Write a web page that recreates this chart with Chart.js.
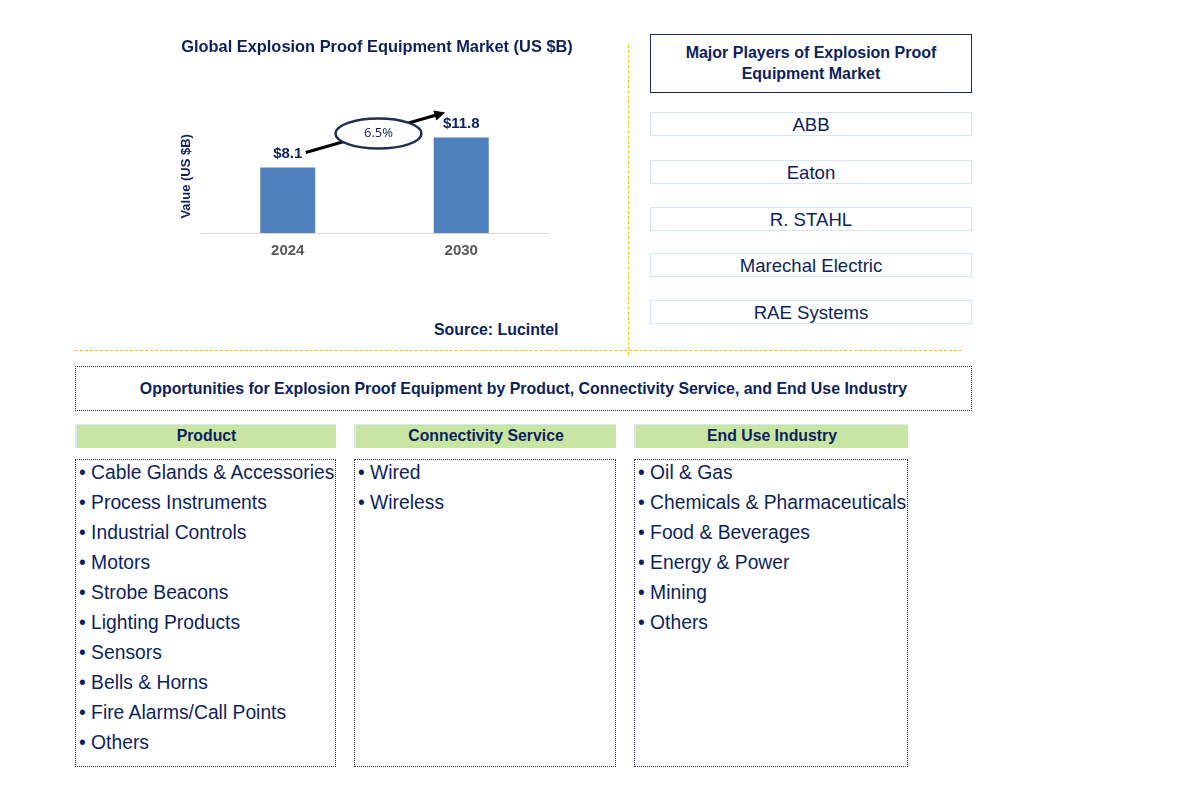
<!DOCTYPE html>
<html>
<head>
<meta charset="utf-8">
<script src="https://cdn.jsdelivr.net/npm/chart.js@4.4.1/dist/chart.umd.min.js"></script>
<style>
    body { margin: 0; width: 1189px; height: 811px; background: #fff; font-family: "Liberation Sans", Arial, sans-serif; color: #0D1F5C; position: relative; overflow: hidden; }
    .abs { position: absolute; box-sizing: border-box; }
    #chartWrap { left: 170px; top: 30px; width: 420px; height: 240px; }
    .source { left: 434px; top: 321px; font-size: 15.9px; font-weight: bold; }
    .vline { left: 628px; top: 45px; height: 310px; border-left: 1px dashed #FFC000; }
    .hline { left: 75px; top: 350px; width: 887px; border-top: 1px dashed #FFC000; }
    .playersHead { left: 650px; top: 34px; width: 322px; height: 59px; border: 1.5px solid #1F2A5C; font-weight: bold; font-size: 16px; line-height: 21px; text-align: center; padding-top: 7px; }
    .player { left: 650px; width: 322px; height: 24px; border: 1.5px solid #D3E8F4; font-size: 18.6px; line-height: 24px; text-align: center; }
    .oppBox { left: 75px; top: 366px; width: 897px; height: 45px; border: 1px dotted #1F2A5C; font-weight: bold; font-size: 15.9px; line-height: 43px; text-align: center; }
    .colHead { top: 424px; height: 24px; background: #C8E5A4; border-left: 2px solid #D5E8F5; border-top: 1px solid #D5E8F5; font-weight: bold; font-size: 15.8px; line-height: 22px; text-align: center; }
    .colBox { top: 459px; height: 308px; border: 1px dotted #1F2A5C; }
    .colBox ul { list-style: none; margin: 0; padding: 0; position: absolute; top: -2px; left: 3px; }
    .colBox li { font-size: 19.3px; line-height: 30px; white-space: nowrap; }
</style>
</head>
<body>

<div id="chartWrap" class="abs"><canvas id="marketChart" width="420" height="240"></canvas></div>
<div class="abs source">Source: Lucintel</div>
<div class="abs vline"></div>
<div class="abs hline"></div>

<div class="abs playersHead">Major Players of Explosion Proof<br>Equipment Market</div>
<div id="players"></div>

<div class="abs oppBox">Opportunities for Explosion Proof Equipment by Product, Connectivity Service, and End Use Industry</div>
<div id="columns"></div>

<script>
// ===============================
// DATA
// ===============================
const years = ["2024", "2030"];
const marketValues = [8.1, 11.8];
const valueLabels = ["$8.1", "$11.8"];
const cagrText = "6.5%";

const players = ["ABB", "Eaton", "R. STAHL", "Marechal Electric", "RAE Systems"];

const segmentTitles = ["Product", "Connectivity Service", "End Use Industry"];
const productItems = ["Cable Glands & Accessories", "Process Instruments", "Industrial Controls", "Motors",
    "Strobe Beacons", "Lighting Products", "Sensors", "Bells & Horns", "Fire Alarms/Call Points", "Others"];
const connectivityItems = ["Wired", "Wireless"];
const endUseItems = ["Oil & Gas", "Chemicals & Pharmaceuticals", "Food & Beverages", "Energy & Power", "Mining", "Others"];

const navy = "#0D1F5C";

// ===============================
// SIDE PANELS
// ===============================
const playerTops = [112, 160, 207, 253, 300];
document.getElementById("players").innerHTML = players.map((p, i) =>
    `<div class="abs player" style="top:${playerTops[i]}px">${p}</div>`).join("");

const colLeft = [75, 354, 634];
const colWidth = [261, 262, 274];
const colItems = [productItems, connectivityItems, endUseItems];
let colHtml = "";
segmentTitles.forEach((t, i) => {
    colHtml += `<div class="abs colHead" style="left:${colLeft[i]}px;width:${colWidth[i]}px">${t}</div>`;
    colHtml += `<div class="abs colBox" style="left:${colLeft[i]}px;width:${colWidth[i]}px"><ul>` +
        colItems[i].map(it => `<li>&bull; ${it}</li>`).join("") + `</ul></div>`;
});
document.getElementById("columns").innerHTML = colHtml;

// ===============================
// BAR LABELS + CAGR ARROW
// ===============================
const annotations = {
    id: "annotations",
    afterDatasetsDraw(chart) {
        const ctx = chart.ctx;
        const meta = chart.getDatasetMeta(0);
        const b1 = meta.data[0], b2 = meta.data[1];

        ctx.save();
        ctx.fillStyle = navy;
        ctx.font = "bold 15px 'Liberation Sans', Arial, sans-serif";
        ctx.textAlign = "center";
        ctx.textBaseline = "middle";
        meta.data.forEach((bar, i) => {
            ctx.fillText(valueLabels[i], bar.x, bar.y - 14);
        });

        // arrow
        const x1 = b1.x + 18, y1 = b1.y - 15;
        const x2 = b2.x - 16, y2 = b2.y - 25;
        ctx.strokeStyle = "#000";
        ctx.lineWidth = 3;
        ctx.beginPath();
        ctx.moveTo(x1, y1);
        ctx.lineTo(x2 - 8, y2 + 2.3);
        ctx.stroke();
        const ang = Math.atan2(y2 - y1, x2 - x1);
        ctx.fillStyle = "#000";
        ctx.beginPath();
        ctx.moveTo(x2, y2);
        ctx.lineTo(x2 - 12 * Math.cos(ang - 0.45), y2 - 12 * Math.sin(ang - 0.45));
        ctx.lineTo(x2 - 12 * Math.cos(ang + 0.45), y2 - 12 * Math.sin(ang + 0.45));
        ctx.closePath();
        ctx.fill();

        // ellipse
        const cx = (b1.x + b2.x) / 2 + 4, cy = b2.y - 4;
        ctx.beginPath();
        ctx.ellipse(cx, cy, 43, 15, 0, 0, Math.PI * 2);
        ctx.fillStyle = "#fff";
        ctx.fill();
        ctx.strokeStyle = "#1F3050";
        ctx.lineWidth = 2.5;
        ctx.stroke();
        ctx.fillStyle = navy;
        ctx.font = "13px 'Open Sans', 'Liberation Sans', sans-serif";
        ctx.fillText(cagrText, cx, cy);
        ctx.restore();
    }
};

// ===============================
// CHART
// ===============================
const ctx = document.getElementById("marketChart").getContext("2d");
new Chart(ctx, {
    type: "bar",
    data: {
        labels: years,
        datasets: [{
            data: marketValues,
            backgroundColor: "#4F81BD",
            barPercentage: 0.317,
            categoryPercentage: 1
        }]
    },
    options: {
        responsive: false,
        animation: false,
        layout: { padding: { left: 5, right: 11, top: 0, bottom: 0 } },
        plugins: {
            legend: { display: false },
            tooltip: { enabled: false },
            title: {
                display: true,
                text: "Global Explosion Proof Equipment Market (US $B)",
                color: navy,
                font: { family: "'Liberation Sans', Arial, sans-serif", size: 16.4, weight: "bold" },
                padding: { top: 8, bottom: 62 }
            }
        },
        scales: {
            x: {
                grid: { display: false },
                border: { display: true, color: "#D9D9D9", width: 1 },
                ticks: { color: "#595959", padding: 1, font: { family: "'Liberation Sans', Arial, sans-serif", size: 15, weight: "bold" } },
                afterFit(axis) { axis.height = 37; }
            },
            y: {
                min: 0,
                max: 14,
                grid: { display: false },
                border: { display: false },
                ticks: { display: false },
                title: {
                    display: true,
                    text: "Value (US $B)",
                    color: navy,
                    padding: 4,
                    font: { family: "'Liberation Sans', Arial, sans-serif", size: 13, weight: "bold" }
                },
                afterFit(axis) { axis.width = 26; }
            },
            // empty right-hand axis, keeps the title centred like the original
            yRight: {
                position: "right",
                min: 0,
                max: 14,
                grid: { display: false },
                border: { display: false },
                ticks: { display: false },
                afterFit(axis) { axis.width = 31; }
            }
        }
    },
    plugins: [annotations]
});
</script>
</body>
</html>
